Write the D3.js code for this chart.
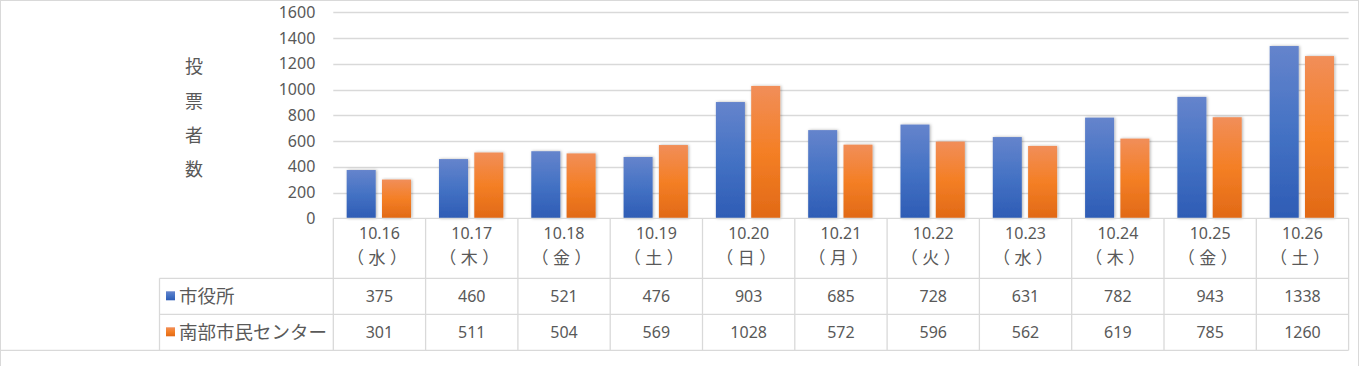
<!DOCTYPE html>
<html>
<head>
<meta charset="utf-8">
<script src="https://cdn.jsdelivr.net/npm/d3@7"></script>
<style>
  body { margin: 0; background: #fff; }
  svg { display: block; font-family: "Noto Sans CJK JP", "Noto Sans", sans-serif; }
</style>
</head>
<body>
<svg width="1360" height="366"></svg>
<script>
const dates = ['10.16', '10.17', '10.18', '10.19', '10.20', '10.21', '10.22', '10.23', '10.24', '10.25', '10.26']
const weekdays = ['（水）', '（木）', '（金）', '（土）', '（日）', '（月）', '（火）', '（水）', '（木）', '（金）', '（土）']
const seriesNames = ['市役所', '南部市民センター']
const cityHall = [375, 460, 521, 476, 903, 685, 728, 631, 782, 943, 1338]
const southCenter = [301, 511, 504, 569, 1028, 572, 596, 562, 619, 785, 1260]
const yTicks = [0, 200, 400, 600, 800, 1000, 1200, 1400, 1600]
const yTitle = ['投', '票', '者', '数']

const seriesValues = [cityHall, southCenter]

const svg = d3.select('svg')
const textColor = '#595959'
const lineColor = '#d9d9d9'
const numFont = '"Noto Sans", sans-serif'

// gradients + shadow
const defs = svg.append('defs')
const grads = [
    {id: 'gBlue', stops: ['#6584cc', '#4472c4', '#2e5cb5']},
    {id: 'gOrange', stops: ['#f18e59', '#f47f25', '#e16916']}
]
grads.forEach(g => {
    const lg = defs.append('linearGradient').attr('id', g.id)
        .attr('x1', 0).attr('y1', 0).attr('x2', 0).attr('y2', 1)
    g.stops.forEach((c, i) => lg.append('stop').attr('offset', i / 2).attr('stop-color', c))
})
const f = defs.append('filter').attr('id', 'shadow')
    .attr('x', '-20%').attr('y', '-5%').attr('width', '140%').attr('height', '110%')
f.append('feDropShadow').attr('dx', 1).attr('dy', 0).attr('stdDeviation', 1.5)
    .attr('flood-color', '#000').attr('flood-opacity', 0.3)

const plotLeft = 333.3, plotRight = 1348.6, plotTop = 12.3, plotBottom = 218.3
const tableLeft = 159.5
const rowY = [plotBottom, 278.3, 314.3, 350.3]

const x = d3.scaleBand().domain(dates).range([plotLeft, plotRight])
const x1 = d3.scaleBand().domain(seriesNames)
    .range([x.bandwidth() * 0.145, x.bandwidth() * 0.842]).paddingInner(0.178)
const y = d3.scaleLinear().domain([0, 1600]).range([plotBottom, plotTop])

// outer frame
svg.append('rect').attr('x', 0.5).attr('y', 0.5).attr('width', 1358).attr('height', 400)
    .attr('fill', 'none').attr('stroke', lineColor)

// gridlines
svg.append('g').selectAll('line').data(yTicks.slice(1)).enter().append('line')
    .attr('x1', plotLeft).attr('x2', plotRight)
    .attr('y1', d => Math.round(y(d)) + 0.5).attr('y2', d => Math.round(y(d)) + 0.5)
    .attr('stroke', lineColor).attr('stroke-width', 1.3)

// y axis labels
const yAxis = svg.append('g').attr('transform', `translate(${plotLeft - 18},0)`)
    .call(d3.axisLeft(y).tickValues(yTicks).tickFormat(d3.format('d')).tickSize(0).tickPadding(0))
yAxis.select('.domain').remove()
yAxis.selectAll('text').attr('fill', textColor).attr('font-size', 16).attr('font-family', numFont)

// y title (vertical stacked)
svg.append('g').selectAll('text').data(yTitle).enter().append('text')
    .attr('x', 194).attr('y', (d, i) => 67 + i * 34.2).attr('dy', '0.36em')
    .attr('text-anchor', 'middle').attr('fill', textColor).attr('font-size', 18)
    .text(d => d)

// bars
const groups = svg.append('g').selectAll('g').data(dates).enter().append('g')
    .attr('transform', d => `translate(${x(d)},0)`)
groups.selectAll('rect').data((d, i) => seriesNames.map((s, k) => ({s, k, v: seriesValues[k][i]})))
    .enter().append('rect')
    .attr('x', d => x1(d.s)).attr('width', x1.bandwidth())
    .attr('y', d => y(d.v)).attr('height', d => plotBottom - y(d.v))
    .attr('fill', d => d.k === 0 ? 'url(#gBlue)' : 'url(#gOrange)')
    .attr('filter', 'url(#shadow)')

// data table
const tbl = svg.append('g').attr('stroke', lineColor).attr('stroke-width', 1.3)
tbl.append('line').attr('x1', plotLeft).attr('x2', plotRight).attr('y1', rowY[0]).attr('y2', rowY[0])
tbl.append('line').attr('x1', tableLeft).attr('x2', plotRight).attr('y1', rowY[1]).attr('y2', rowY[1])
tbl.append('line').attr('x1', tableLeft).attr('x2', plotRight).attr('y1', rowY[2]).attr('y2', rowY[2])
tbl.append('line').attr('x1', 1).attr('x2', plotRight).attr('y1', rowY[3]).attr('y2', rowY[3])
tbl.append('line').attr('x1', tableLeft).attr('x2', tableLeft).attr('y1', rowY[1]).attr('y2', rowY[3])
tbl.selectAll('.vl').data(dates.concat(['end'])).enter().append('line')
    .attr('x1', (d, i) => plotLeft + i * x.bandwidth()).attr('x2', (d, i) => plotLeft + i * x.bandwidth())
    .attr('y1', rowY[0]).attr('y2', rowY[3])

// category labels
const cat = svg.append('g').attr('fill', textColor).attr('text-anchor', 'middle')
cat.selectAll('.d').data(dates).enter().append('text')
    .attr('x', d => x(d) + x.bandwidth() / 2).attr('y', 233).attr('dy', '0.35em')
    .attr('font-size', 16).attr('font-family', numFont).text(d => d)
// weekday: place each full-width char on its own so the brackets keep their width
const wd = cat.selectAll('.w').data(weekdays).enter().append('text')
    .attr('y', 258).attr('dy', '0.36em').attr('font-size', 17)
wd.selectAll('tspan').data((d, i) => [...d].map((ch, j) => ({ch, j, cx: x(dates[i]) + x.bandwidth() / 2 - 2.5})))
    .enter().append('tspan')
    .attr('x', d => d.cx + (d.j - 1) * 21.5)
    .text(d => d.ch)

// legend rows + values
seriesNames.forEach((s, k) => {
    const cy = (rowY[k + 1] + rowY[k + 2]) / 2
    svg.append('rect').attr('x', 166).attr('y', cy - 5).attr('width', 9).attr('height', 9)
        .attr('fill', k === 0 ? 'url(#gBlue)' : 'url(#gOrange)')
    svg.append('text').attr('x', 179).attr('y', cy).attr('dy', '0.36em')
        .attr('font-size', 18.5).attr('fill', textColor).text(s)
    svg.append('g').selectAll('text').data(seriesValues[k]).enter().append('text')
        .attr('x', (d, i) => x(dates[i]) + x.bandwidth() / 2).attr('y', cy).attr('dy', '0.35em')
        .attr('text-anchor', 'middle').attr('font-size', 16).attr('fill', textColor)
        .attr('font-family', numFont).text(d => d)
})
</script>
</body>
</html>
